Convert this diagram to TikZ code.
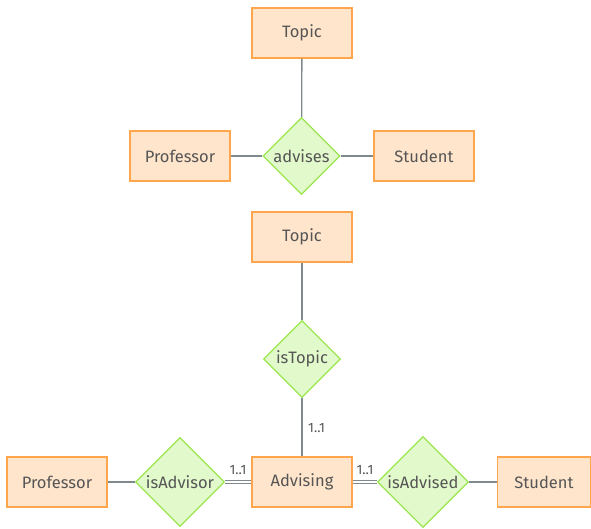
\documentclass[tikz,border=0pt]{standalone}
\usepackage{fontspec}
\setmainfont{Fira Sans}
\usetikzlibrary{shapes.geometric}
\definecolor{entfill}{HTML}{FFE5CC}
\definecolor{entdraw}{HTML}{FFA64D}
\definecolor{relfill}{HTML}{E2F9CC}
\definecolor{reldraw}{HTML}{99E64D}
\definecolor{linec}{HTML}{7F8A8C}
\definecolor{txt}{HTML}{555555}
\tikzset{
  entity/.style={draw=entdraw, fill=entfill, line width=1.2pt, minimum width=100pt, minimum height=50pt, inner sep=0pt, text=txt, font=\fontsize{16.5}{19}\selectfont},
  rel/.style={diamond, draw=reldraw, fill=relfill, line width=1.2pt, minimum size=77pt, inner sep=0pt, text=txt, font=\fontsize{16.5}{19}\selectfont},
  conn/.style={draw=linec, line width=1.3pt},
  thinc/.style={draw=linec, line width=0.9pt},
  card/.style={text=txt, font=\fontsize{13.5}{16}\selectfont, inner sep=0pt}
}
\begin{document}
\begin{tikzpicture}[x=1pt,y=-1pt]
\useasboundingbox (0,0) rectangle (591,528);
% top diagram
\node[entity] (topic1) at (302,33) {Topic};
\node[entity] (prof1) at (180,156) {Professor};
\node[rel] (advises) at (301.5,156) {advises};
\node[entity] (stud1) at (424,156) {Student};
\draw[conn] (topic1) -- (advises);
\draw[conn] (prof1) -- (advises);
\draw[conn] (advises) -- (stud1);
% bottom diagram
\node[entity] (topic2) at (302,237) {Topic};
\node[rel] (istopic) at (302,359) {isTopic};
\node[entity] (advising) at (302,482) {Advising};
\node[entity] (prof2) at (57,482) {Professor};
\node[rel, minimum size=89pt] (isadvisor) at (180,482) {isAdvisor};
\node[rel, minimum size=91pt] (isadvised) at (423,482) {isAdvised};
\node[entity, minimum width=93pt] (stud2) at (544,482) {Student};
\draw[conn] (topic2) -- (istopic);
\draw[thinc, transform canvas={xshift=-0.8pt}] (istopic) -- (advising);
\draw[thinc, transform canvas={xshift=0.8pt}] (istopic) -- (advising);
\draw[conn] (prof2) -- (isadvisor);
\draw[thinc, transform canvas={yshift=-1.3pt}] (isadvisor) -- (advising);
\draw[thinc, transform canvas={yshift=1.3pt}] (isadvisor) -- (advising);
\draw[thinc, transform canvas={yshift=-1.3pt}] (advising) -- (isadvised);
\draw[thinc, transform canvas={yshift=1.3pt}] (advising) -- (isadvised);
\draw[conn] (isadvised) -- (stud2);
\node[card, anchor=west] (c1) at (308,428) {1..1};
\node[card] (c2) at (238,470) {1..1};
\node[card] (c3) at (365,470) {1..1};
\end{tikzpicture}
\end{document}
